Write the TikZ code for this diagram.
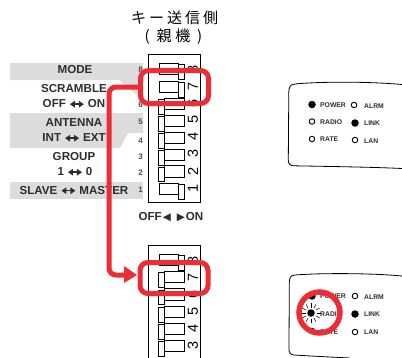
\documentclass[tikz,border=0pt]{standalone}
\usepackage{fontspec}
\setmainfont{Liberation Sans}
\newfontfamily\cjk{Noto Sans CJK JP}
\newfontfamily\dv{DejaVu Sans}
\usetikzlibrary{arrows.meta}
\definecolor{hired}{HTML}{EC2D35}
\definecolor{band}{HTML}{DCDCDC}
\definecolor{lab}{HTML}{2E2E2E}
\newcommand{\lr}{\tikz[baseline=0pt]{\draw[line width=1.5pt,{Triangle[length=5pt,width=6.5pt]}-{Triangle[length=5pt,width=6.5pt]},lab] (0,-3.8) -- (14,-3.8);}}
\tikzset{
  x=1pt,y=-1pt,
  bandfill/.style={fill=band,draw=none},
  lbl/.style={font=\bfseries\fontsize{11.6}{12}\selectfont,text=lab,inner sep=0pt},
  sidx/.style={font=\bfseries\fontsize{8}{8}\selectfont,text=lab!85,inner sep=0pt},
  dig/.style={font=\fontsize{14.5}{15}\selectfont,rotate=90,inner sep=0pt},
  dipline/.style={draw=black,line width=0.8pt,fill=white},
  redbox/.style={draw=hired,line width=5pt,rounded corners=8pt,minimum width=68pt,inner sep=0pt},
  redlink/.style={draw=hired,line width=5pt,rounded corners=7pt},
  led/.style={circle,draw=black,line width=0.9pt,minimum size=5.5pt,inner sep=0pt},
  ledon/.style={circle,fill=black,minimum size=7.5pt,inner sep=0pt},
  ledtxt/.style={font=\bfseries\fontsize{6.8}{7}\selectfont,text=lab,anchor=west,inner sep=0pt},
  panel/.style={draw=black,line width=0.8pt},
  titlefont/.style={inner sep=0pt,font=\cjk\fontsize{15}{16}\selectfont},
}
\newcommand{\swon}[1]{%
  \draw[dipline] (159,#1) rectangle (178,#1+11.5);
  \draw[dipline] (178,#1+1) rectangle (184,#1+16);}
\newcommand{\swoff}[1]{%
  \draw[dipline] (164.5,#1) rectangle (184,#1+11.5);
  \draw[dipline] (158,#1+1.5) rectangle (164.5,#1+16);}
\begin{document}
\begin{tikzpicture}
\useasboundingbox (0,0) rectangle (402,357);
% grey bands
\fill[bandfill] (10,63) -- (143,63) -- (143,99) -- (128,88) -- (120,80) -- (10,80) -- cycle;
\fill[bandfill] (10,113) -- (143,113) -- (143,133) -- (128,133) -- (120,148) -- (10,148) -- cycle;
\fill[bandfill] (10,182) rectangle (143,198.5);
% labels
\node[lbl] (mode) at (75,70) {MODE};
\node[lbl] (scr) at (74,89) {SCRAMBLE};
\node[lbl] (offon) at (74,104) {OFF \lr{} ON};
\node[lbl] (ant) at (74,123) {ANTENNA};
\node[lbl] (intext) at (74,138) {INT \lr{} EXT};
\node[lbl] (grp) at (74,157) {GROUP};
\node[lbl] (ten) at (75,172) {1 \lr{} 0};
\node[lbl] (slave) at (74,190.5) {SLAVE \lr{} MASTER};
\node[sidx] (s8) at (140.5,70) {8};
\node[sidx] (s6) at (140.5,105) {6};
\node[sidx] (s5) at (140.5,122) {5};
\node[sidx] (s4) at (140.5,141) {4};
\node[sidx] (s3) at (140.5,157) {3};
\node[sidx] (s2) at (140.5,173) {2};
\node[sidx] (s1) at (140.5,190) {1};
% title
\node[titlefont] (title) at (174.5,18) {キ\kern3pt ー\kern3pt 送\kern3pt 信\kern3pt 側};
\node[titlefont] (title2) at (173.5,37) {(\kern7pt 親\kern3.5pt 機\kern7pt )};
% upper DIP
\draw[dipline] (148,54) rectangle (200.7,202.7);
\foreach \d/\yy in {8/69,7/86,6/103,5/119.5,4/136.5,3/153.5,2/171,1/188}
  \node[dig] (u\d) at (193,\yy) {\d};
\swon{63}\swon{81}\swoff{98}\swoff{115}\swoff{132}\swoff{149}\swoff{165.5}\swon{183}
\node[lbl] (offl) at (171,217) {OFF\kern1pt{\dv\fontsize{10.5}{10}\selectfont◀\kern6pt▶}\kern1pt ON};
% lower DIP
\draw[dipline,fill=none] (148,358) -- (148,245) -- (200.7,245) -- (200.7,358);
\foreach \d/\yy in {8/260,7/277,6/294.5,5/311,4/328,3/345}
  \node[dig] (l\d) at (193,\yy) {\d};
\swon{254}\swoff{271}\swoff{288.5}\swoff{306}\swoff{323}\swoff{340}
% red
\node[redbox,minimum height=33pt] (boxA) at (174.5,87) {};
\node[redbox,minimum height=31pt] (boxB) at (174,278) {};
\coordinate (bendA) at (109,87);
\coordinate (bendB) at (109,275);
\coordinate (tipB) at (137,275);
\draw[redlink] (boxA.west) -- (bendA) -- (bendB) -- (125,275);
\fill[hired] (124,266) -- (tipB) -- (124,283) -- cycle;
% upper panel
\draw[panel] (402,84.5) .. controls (370,81.5) and (320,81.5) .. (295,84) .. controls (290,84.5) and (289,87) .. (288.8,92) -- (288.3,160) .. controls (288.3,164) and (290,165.5) .. (294,165.8) .. controls (330,166.5) and (370,167) .. (402,168.5);
\node[ledon] (p1) at (312,104.5) {};
\node[ledtxt] at (320,105) {POWER};
\node[led] (p2) at (312,121.5) {};
\node[ledtxt] at (320,122) {RADIO};
\node[led] (p3) at (312,139) {};
\node[ledtxt] at (320,139.5) {RATE};
\node[led] (p4) at (354,105) {};
\node[ledtxt] at (364,106) {ALRM};
\node[ledon] (p5) at (355,123) {};
\node[ledtxt] at (364,123.5) {LINK};
\node[led] (p6) at (355,140) {};
\node[ledtxt] at (364,141) {LAN};
% lower panel
\draw[panel] (402,276) .. controls (370,273) and (320,273) .. (295,275) .. controls (290,275.5) and (289.5,278) .. (289.3,283) -- (289,349) .. controls (289,352.5) and (290,354.5) .. (294,355) .. controls (310,356) and (330,357) .. (350,358);
\node[ledon] (q1) at (312,296) {};
\node[ledtxt] at (320,296.5) {POWER};
\node[ledon] (q2) at (311,313) {};
\foreach \a in {0,30,...,330}
  \draw[black,line width=0.5pt] (q2) ++(\a:5.5pt) -- ++(\a:4.5pt);
\node[ledtxt] at (320,314) {RADIO};
\node[led] (q3) at (312,331) {};
\node[ledtxt] at (320,332) {RATE};
\node[led] (q4) at (355,296) {};
\node[ledtxt] at (364,297) {ALRM};
\node[ledon] (q5) at (355,314) {};
\node[ledtxt] at (364,314.5) {LINK};
\node[led] (q6) at (355,332) {};
\node[ledtxt] at (364,332.5) {LAN};
\node[circle,draw=hired,line width=5.5pt,minimum size=41pt,inner sep=0pt] (ring) at (319.5,312.5) {};
\end{tikzpicture}
\end{document}
